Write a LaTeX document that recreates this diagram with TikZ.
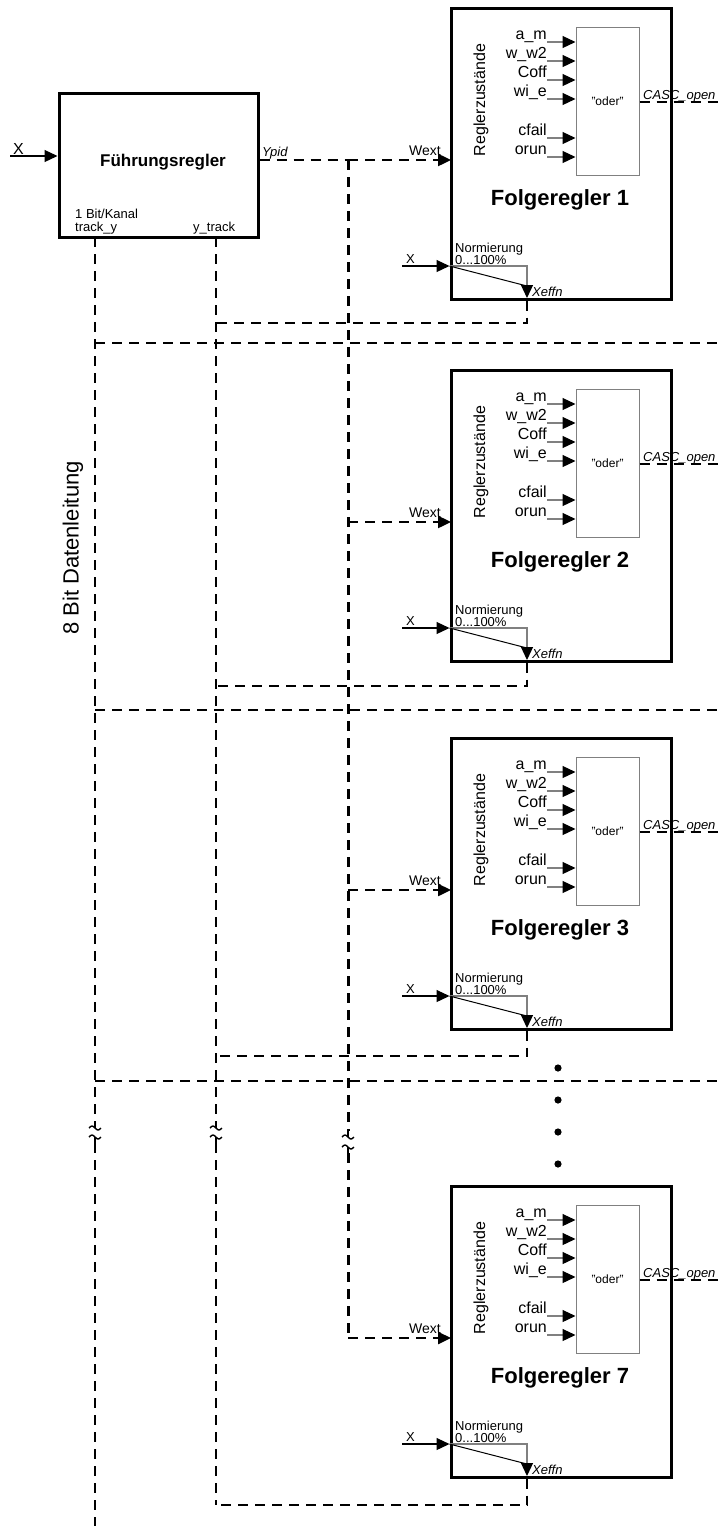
\documentclass[tikz,border=0pt]{standalone}
\usepackage{fontspec}
\setmainfont{Liberation Sans}
\usetikzlibrary{arrows.meta, positioning}
% break mark on a bus line: x, end of upper part, start of lower part
\newcommand{\bruch}[3]{%
  \draw[line width=1.4pt] (#1-6,#2) sin (#1-3,#2-2) cos (#1,#2) sin (#1+3,#2+2) cos (#1+6,#2);
  \draw[line width=1.4pt] (#1-6,#3) sin (#1-3,#3-2) cos (#1,#3) sin (#1+3,#3+2) cos (#1+6,#3);
  \draw[line width=2.4pt] (#1,#2-6) -- (#1,#2);
  \draw[line width=2.4pt] (#1,#3) -- (#1,#3+6);}

\begin{document}
\begin{tikzpicture}[x=1pt, y=-1pt,
    block/.style={draw, line width=3pt, minimum width=220pt, minimum height=291pt, inner sep=0pt},
    fuehrung/.style={draw, line width=3pt, minimum width=199pt, minimum height=144pt, inner sep=0pt},
    oderbox/.style={draw=gray, line width=1pt, minimum width=63pt, minimum height=148pt, inner sep=0pt, font=\fontsize{12}{14}\selectfont},
    bus/.style={line width=2.4pt, dash pattern=on 10pt off 7pt},
    busdick/.style={bus, line width=3pt},
    pfeil/.style={-{Triangle[length=13pt, width=12pt, color=black]}},
    sig/.style={draw=gray, line width=1.2pt, pfeil},
    lbl/.style={inner sep=0pt, font=\fontsize{16}{18}\selectfont},
    klein/.style={inner sep=0pt, font=\fontsize{13}{15}\selectfont},
    kursiv/.style={inner sep=0pt, font=\fontsize{13}{15}\selectfont\itshape},
    titel/.style={font=\fontsize{22}{26}\selectfont\bfseries}
  ]
  \useasboundingbox (0,0) rectangle (724,1526);

  % Fuehrungsregler
  \node[fuehrung] (fr) at (158.5,165) {};
  \node[font=\fontsize{17}{20}\selectfont\bfseries] (frt) at (163,162) {Führungsregler};
  \node[klein, anchor=base west] (kan) at (75,218) {1 Bit/Kanal};
  \node[klein, anchor=base west] (tyl) at (75,231) {track\_y};
  \node[klein, anchor=base west] (ytl) at (193,231) {y\_track};
  \coordinate (xq) at (10,156);
  \draw[line width=1.2pt, pfeil] (xq) -- (xq -| fr.west);
  \node[lbl, anchor=base west] (xl) at (13,154) {X};
  \coordinate (ty) at (95,237);
  \coordinate (yt) at (216,237);
  \coordinate (yb) at (348,160);
  \draw[bus] (yb -| fr.east) -- (yb);
  \node[kursiv, anchor=base west] (ypl) at (262,156) {Ypid};

  % Folgeregler
  \foreach \n/\T/\R in {1/8/323, 2/370/686, 3/738/1056, 7/1186/1505}{
    \node[block] (f\n) at (561,\T+145.5) {};
    \node[oderbox] (o\n) at (607.5,\T+93) {"oder"};
    \node[lbl, rotate=90] (rz\n) at (481,\T+92) {Reglerzustände};
    \foreach \lab/\dy in {a\_m/34, w\_w2/53, Coff/72, wi\_e/91, cfail/130, orun/149}{
      \coordinate (e\n x\dy) at (547,\T+\dy);
      \node[lbl, anchor=base east] (l\n x\dy) at (547,\T+\dy-3) {\lab};
      \draw[sig] (e\n x\dy) -- (e\n x\dy -| o\n.west);
    }
    \coordinate (c\n) at (724,\T+94);
    \draw[bus] (c\n -| o\n.east) -- (c\n);
    \node[kursiv, anchor=base west] (cl\n) at (643,\T+91) {CASC\_open};
    \coordinate (w\n) at (451,\T+152);
    \coordinate (wb\n) at (348,\T+152);
    \draw[bus, pfeil] (wb\n) -- (w\n);
    \node[font=\fontsize{14}{16}\selectfont, inner sep=0pt, anchor=base east] (wl\n) at (441,\T+147) {Wext};
    \node[titel] (t\n) at (560,\T+192) {Folgeregler \n};
    \node[klein, anchor=base west] (nm\n) at (455,\T+244) {Normierung};
    \node[klein, anchor=base west] (np\n) at (455,\T+256) {0...100\%};
    \coordinate (xi\n) at (402,\T+258);
    \draw[line width=1.2pt, pfeil] (xi\n) -- (xi\n -| f\n.west);
    \node[klein, anchor=base west] (xil\n) at (406,\T+255) {X};
    \coordinate (nk\n) at (527,\T+258);
    \coordinate (xe\n) at (527,\T+290);
    \draw[sig] (xi\n -| f\n.west) -- (nk\n) -- (xe\n);
    \draw[line width=1pt] (xi\n -| f\n.west) -- (527,\T+278);
    \node[kursiv, anchor=west] (xel\n) at (532,\T+284) {Xeffn};
    \coordinate (r\n) at (527,\R);
    \draw[bus] (f\n.south -| xe\n) -- (r\n) -- (r\n -| yt);
  }

  % 8 Bit Datenleitung
  \foreach \n/\B in {1/343, 2/710, 3/1081}{
    \coordinate (b\n) at (724,\B);
    \draw[bus] (b\n -| ty) -- (b\n);
  }
  \node[rotate=90, font=\fontsize{22}{26}\selectfont] (dl) at (73,548) {8 Bit Datenleitung};

  % vertical lines with breaks
  \draw[bus] (ty) -- (95,1122);
  \draw[bus] (95,1143) -- (95,1526);
  \draw[bus] (yt) -- (216,1122);
  \draw[bus] (216,1143) -- (r7 -| yt);
  \draw[busdick] (yb) -- (348,1131);
  \draw[busdick] (348,1153) -- (wb7);
  \bruch{95}{1128}{1137}
  \bruch{216}{1128}{1137}
  \bruch{348}{1137}{1147}

  % more blocks
  \foreach \y in {1068,1100,1132,1164}
    \fill (558,\y) circle (3.6pt);
\end{tikzpicture}
\end{document}
